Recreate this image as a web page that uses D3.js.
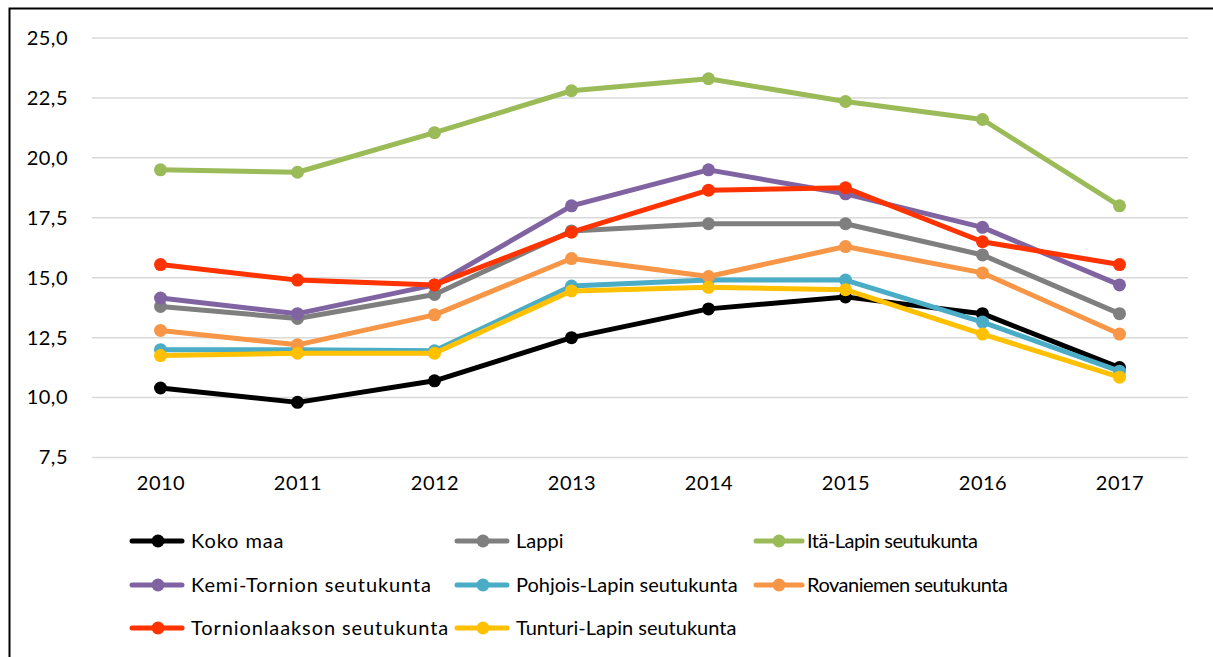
<!DOCTYPE html>
<html>
<head>
<meta charset="utf-8">
<script src="https://cdn.jsdelivr.net/npm/d3@7"></script>
<style>
  body { margin: 0; background: #fff; }
  svg { display: block; font-family: Lato, "Open Sans", sans-serif; }
</style>
</head>
<body>
<svg id="chart" width="1213" height="657"></svg>
<script>
const years = ["2010", "2011", "2012", "2013", "2014", "2015", "2016", "2017"];
const yTicks = [7.5, 10, 12.5, 15, 17.5, 20, 22.5, 25];

const seriesNames = [
    "Koko maa", "Lappi", "Itä-Lapin seutukunta",
    "Kemi-Tornion seutukunta", "Pohjois-Lapin seutukunta", "Rovaniemen seutukunta",
    "Tornionlaakson seutukunta", "Tunturi-Lapin seutukunta"
];
const seriesColors = ["#000000", "#7f7f7f", "#9bbb59", "#8064a2", "#4bacc6", "#f79646", "#ff3300", "#ffc000"];

const kokoMaa = [10.4, 9.8, 10.7, 12.5, 13.7, 14.2, 13.5, 11.25];
const lappi = [13.8, 13.3, 14.3, 16.95, 17.25, 17.25, 15.95, 13.5];
const itaLappi = [19.5, 19.4, 21.05, 22.8, 23.3, 22.35, 21.6, 18.0];
const kemiTornio = [14.15, 13.5, 14.7, 18.0, 19.5, 18.5, 17.1, 14.7];
const pohjoisLappi = [12.0, 12.0, 11.95, 14.65, 14.9, 14.9, 13.15, 11.1];
const rovaniemi = [12.8, 12.2, 13.45, 15.8, 15.05, 16.3, 15.2, 12.65];
const tornionlaakso = [15.55, 14.9, 14.7, 16.9, 18.65, 18.75, 16.5, 15.55];
const tunturiLappi = [11.75, 11.85, 11.85, 14.45, 14.6, 14.5, 12.65, 10.85];

const seriesValues = [kokoMaa, lappi, itaLappi, kemiTornio, pohjoisLappi, rovaniemi, tornionlaakso, tunturiLappi];

const svg = d3.select("#chart");

// outer frame (runs off the right and bottom edges)
svg.append("rect")
    .attr("x", 9.5).attr("y", 8.5)
    .attr("width", 1220).attr("height", 670)
    .attr("fill", "none")
    .attr("stroke", "#000")
    .attr("stroke-width", 2);

const x = d3.scalePoint().domain(years).range([92, 1188]).padding(0.5);
const y = d3.scaleLinear().domain([7.5, 25]).range([457.5, 38]);

// gridlines
svg.append("g")
    .selectAll("line")
    .data(yTicks)
    .join("line")
    .attr("x1", 92).attr("x2", 1188)
    .attr("y1", d => y(d)).attr("y2", d => y(d))
    .attr("stroke", "#d9d9d9")
    .attr("stroke-width", 1.5);

const fmt = d => d3.format(".1f")(d).replace(".", ",");

const styleText = sel => sel
    .attr("font-family", "Lato, sans-serif")
    .attr("font-size", 20)
    .attr("letter-spacing", 0.5)
    .attr("fill", "#000");

const yAxis = svg.append("g")
    .attr("transform", "translate(68,0)")
    .call(d3.axisLeft(y).tickValues(yTicks).tickFormat(fmt).tickSize(0).tickPadding(0));
yAxis.select(".domain").remove();
yAxis.selectAll("text").call(styleText);

const xAxis = svg.append("g")
    .attr("transform", "translate(0,476)")
    .call(d3.axisBottom(x).tickSize(0).tickPadding(0));
xAxis.select(".domain").remove();
xAxis.selectAll("text").call(styleText);

const line = d3.line()
    .x((d, i) => x(years[i]))
    .y(d => y(d));

const series = seriesNames.map((name, i) => ({ name, color: seriesColors[i], values: seriesValues[i] }));

series.forEach(s => {
    const g = svg.append("g");
    g.append("path")
        .attr("d", line(s.values))
        .attr("fill", "none")
        .attr("stroke", s.color)
        .attr("stroke-width", 5)
        .attr("stroke-linejoin", "round");
    g.selectAll("circle")
        .data(s.values)
        .join("circle")
        .attr("cx", (d, i) => x(years[i]))
        .attr("cy", d => y(d))
        .attr("r", 6.5)
        .attr("fill", s.color);
});

// legend: 3 columns
const legendCols = [132, 457, 756];
const legendRows = [541, 585, 628];
const legendSpacing = [0.9, 0, -0.5];
const legend = svg.append("g")
    .selectAll("g")
    .data(series)
    .join("g")
    .attr("transform", (d, i) => `translate(${legendCols[i % 3]},${legendRows[Math.floor(i / 3)]})`);

legend.append("line")
    .attr("x1", 0).attr("x2", (d, i) => i % 3 === 2 ? 46 : 50)
    .attr("stroke", d => d.color)
    .attr("stroke-width", 5)
    .attr("stroke-linecap", "round");
legend.append("circle")
    .attr("cx", (d, i) => i % 3 === 2 ? 23 : 26)
    .attr("r", 6.5)
    .attr("fill", d => d.color);
legend.append("text")
    .attr("x", (d, i) => i % 3 === 2 ? 51 : 59)
    .attr("dy", "0.35em")
    .attr("font-size", 20)
    .attr("letter-spacing", (d, i) => legendSpacing[i % 3])
    .attr("fill", "#000")
    .text(d => d.name);
</script>
</body>
</html>
